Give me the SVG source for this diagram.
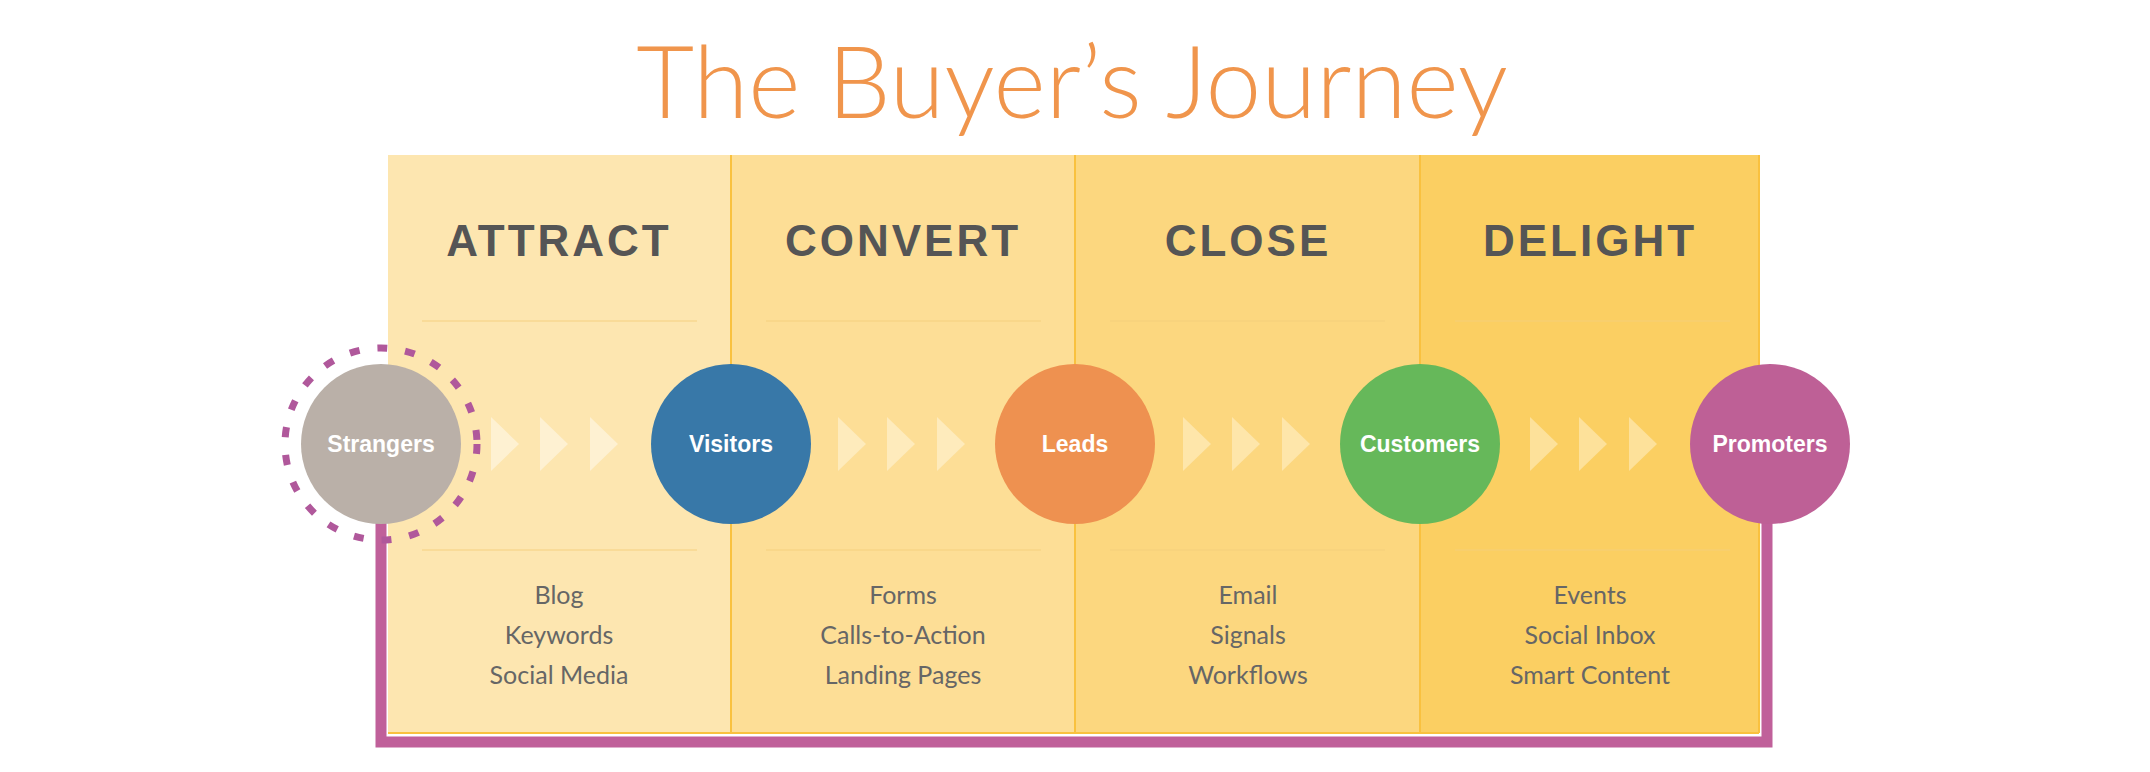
<svg xmlns="http://www.w3.org/2000/svg" width="2150" height="772" viewBox="0 0 2150 772">
<style>
.hd{font-family:"Liberation Sans",Arial,sans-serif;font-weight:bold;font-size:44px;fill:#555;text-anchor:middle;letter-spacing:3px}
.it{font-family:Lato,"Liberation Sans",sans-serif;font-size:25px;fill:#666;text-anchor:middle}
.nl{font-family:"Liberation Sans",Arial,sans-serif;font-weight:bold;font-size:23px;fill:#fff;text-anchor:middle}
.sep{stroke:#f6cf7c;stroke-width:1.5;opacity:.6}
.div{stroke:#f9c13f;stroke-width:2}
</style>
<rect width="2150" height="772" fill="#fff"/>
<text x="1072" y="118" font-family="Lato,'Liberation Sans',sans-serif" font-weight="300" font-size="100" fill="#F0954C" text-anchor="middle">The Buyer’s Journey</text>
<g id="connectors">
<polyline points="381,520 381,742 1767,742 1767,520" fill="none" stroke="#C0609A" stroke-width="11"/>
</g>
<g id="panel">
<rect x="388" y="155" width="343" height="578" fill="#FDE6B0"/>
<rect x="731" y="155" width="344" height="578" fill="#FDDE96"/>
<rect x="1075" y="155" width="345" height="578" fill="#FCD77F"/>
<rect x="1420" y="155" width="339" height="578" fill="#FBCF62"/>
<line class="div" x1="731" y1="155" x2="731" y2="733"/>
<line class="div" x1="1075" y1="155" x2="1075" y2="733"/>
<line class="div" x1="1420" y1="155" x2="1420" y2="733"/>
<line class="div" x1="1759" y1="155" x2="1759" y2="733"/>
<line class="div" x1="388" y1="733" x2="1759" y2="733"/>
<g class="sep">
<line x1="422" y1="321" x2="697" y2="321"/><line x1="766" y1="321" x2="1041" y2="321"/><line x1="1110" y1="321" x2="1385" y2="321"/><line x1="1455" y1="321" x2="1730" y2="321"/>
<line x1="422" y1="550" x2="697" y2="550"/><line x1="766" y1="550" x2="1041" y2="550"/><line x1="1110" y1="550" x2="1385" y2="550"/><line x1="1455" y1="550" x2="1730" y2="550"/>
</g>
</g>
<g id="stage-attract"><text class="hd" x="559" y="256">ATTRACT</text>
<text class="it" x="559" y="604">Blog</text><text class="it" x="559" y="644">Keywords</text><text class="it" x="559" y="684">Social Media</text></g>
<g id="stage-convert"><text class="hd" x="903" y="256">CONVERT</text>
<text class="it" x="903" y="604">Forms</text><text class="it" x="903" y="644">Calls-to-Action</text><text class="it" x="903" y="684">Landing Pages</text></g>
<g id="stage-close"><text class="hd" x="1248" y="256">CLOSE</text>
<text class="it" x="1248" y="604">Email</text><text class="it" x="1248" y="644">Signals</text><text class="it" x="1248" y="684">Workflows</text></g>
<g id="stage-delight"><text class="hd" x="1590" y="256">DELIGHT</text>
<text class="it" x="1590" y="604">Events</text><text class="it" x="1590" y="644">Social Inbox</text><text class="it" x="1590" y="684">Smart Content</text></g>
<g id="chevrons">
<g fill="#FEF1D2"><path d="M491,417 L519,444 L491,471Z"/><path d="M540,417 L568,444 L540,471Z"/><path d="M590,417 L618,444 L590,471Z"/></g>
<g fill="#FEEBBC"><path d="M838,417 L866,444 L838,471Z"/><path d="M887,417 L915,444 L887,471Z"/><path d="M937,417 L965,444 L937,471Z"/></g>
<g fill="#FEE6AA"><path d="M1183,417 L1211,444 L1183,471Z"/><path d="M1232,417 L1260,444 L1232,471Z"/><path d="M1282,417 L1310,444 L1282,471Z"/></g>
<g fill="#FDE19A"><path d="M1530,417 L1558,444 L1530,471Z"/><path d="M1579,417 L1607,444 L1579,471Z"/><path d="M1629,417 L1657,444 L1629,471Z"/></g>
</g>
<g id="strangers"><circle cx="381" cy="444" r="96" fill="none" stroke="#B0589B" stroke-width="7" stroke-dasharray="10 18"/>
<circle cx="381" cy="444" r="80" fill="#BAB0A8"/><text class="nl" x="381" y="452">Strangers</text></g>
<g id="visitors"><circle cx="731" cy="444" r="80" fill="#3878A8"/><text class="nl" x="731" y="452">Visitors</text></g>
<g id="leads"><circle cx="1075" cy="444" r="80" fill="#EE9150"/><text class="nl" x="1075" y="452">Leads</text></g>
<g id="customers"><circle cx="1420" cy="444" r="80" fill="#66B85A"/><text class="nl" x="1420" y="452">Customers</text></g>
<g id="promoters"><circle cx="1770" cy="444" r="80" fill="#BE6096"/><text class="nl" x="1770" y="452">Promoters</text></g>
</svg>
